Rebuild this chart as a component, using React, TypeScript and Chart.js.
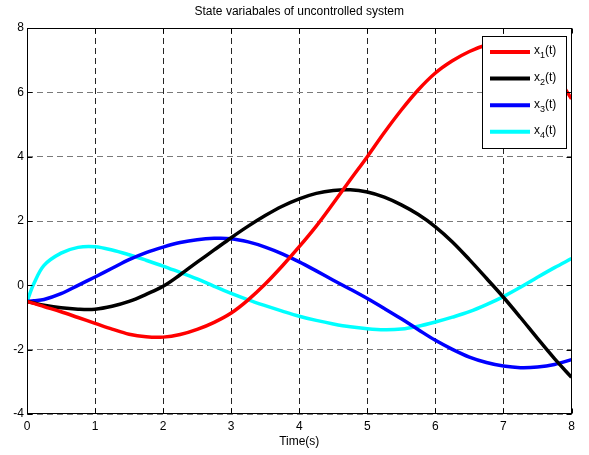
import React, { useEffect, useRef } from "react";
import { Chart, registerables } from "chart.js";

Chart.register(...registerables);

const titleText = "State variabales of uncontrolled system";
const xLabel = "Time(s)";

const time = [0, 0.1, 0.25, 0.5, 0.75, 1, 1.25, 1.5, 1.75, 2, 2.25, 2.5, 2.75, 3, 3.25, 3.5, 3.75, 4, 4.25, 4.5, 4.75, 5, 5.25, 5.5, 5.75, 6, 6.25, 6.5, 6.75, 7, 7.25, 7.5, 7.75, 8];

const x1 = [-0.5, -0.56, -0.66, -0.82, -1.0, -1.18, -1.36, -1.52, -1.6, -1.61, -1.53, -1.37, -1.15, -0.86, -0.45, 0.04, 0.6, 1.2, 1.84, 2.55, 3.28, 4.0, 4.75, 5.45, 6.08, 6.6, 6.98, 7.27, 7.47, 7.57, 7.5, 7.2, 6.6, 5.8];
const x2 = [-0.5, -0.55, -0.62, -0.7, -0.74, -0.74, -0.65, -0.5, -0.28, -0.03, 0.33, 0.72, 1.1, 1.48, 1.84, 2.17, 2.46, 2.69, 2.86, 2.95, 2.97, 2.9, 2.74, 2.5, 2.2, 1.82, 1.35, 0.8, 0.22, -0.37, -1.0, -1.65, -2.28, -2.86];
const x3 = [-0.5, -0.48, -0.44, -0.26, 0.0, 0.26, 0.53, 0.8, 1.02, 1.19, 1.33, 1.42, 1.46, 1.45, 1.35, 1.19, 0.98, 0.73, 0.45, 0.16, -0.12, -0.41, -0.72, -1.04, -1.38, -1.71, -1.99, -2.23, -2.4, -2.51, -2.56, -2.54, -2.46, -2.31];
const x4 = [-0.5, 0.05, 0.62, 1.0, 1.18, 1.2, 1.1, 0.95, 0.78, 0.6, 0.4, 0.2, -0.03, -0.25, -0.45, -0.63, -0.8, -0.96, -1.09, -1.2, -1.29, -1.35, -1.38, -1.36, -1.27, -1.14, -0.99, -0.82, -0.6, -0.35, -0.06, 0.25, 0.55, 0.83];

const seriesValues = [x1, x2, x3, x4];
const seriesSubs = ["1", "2", "3", "4"];
const seriesColors = ["#ff0000", "#000000", "#0000ff", "#00ffff"];

const xTickValues = [0, 1, 2, 3, 4, 5, 6, 7, 8];
const yTickValues = [-4, -2, 0, 2, 4, 6, 8];

const FONT = "Arial, 'Liberation Sans', Helvetica, sans-serif";

const decorPlugin = {
  id: "decor",
  afterDraw(chart: any) {
    const { ctx, chartArea, scales } = chart;
    const { left, right, top, bottom } = chartArea;
    const xs = scales.x;
    const ys = scales.y;
    ctx.save();
    ctx.strokeStyle = "#000";
    ctx.lineWidth = 1;
    ctx.setLineDash([]);
    const L = Math.round(left) + 0.5;
    const R = Math.round(right) - 0.5;
    const T = Math.round(top) + 0.5;
    const B = Math.round(bottom) - 0.5;
    ctx.strokeRect(L, T, R - L, B - T);
    ctx.beginPath();
    xTickValues.forEach((v) => {
      const px = Math.round(xs.getPixelForValue(v)) + 0.5;
      ctx.moveTo(px, B);
      ctx.lineTo(px, B - 5);
      ctx.moveTo(px, T);
      ctx.lineTo(px, T + 5);
    });
    yTickValues.forEach((v) => {
      const py = Math.round(ys.getPixelForValue(v)) + 0.5;
      ctx.moveTo(L, py);
      ctx.lineTo(L + 5, py);
      ctx.moveTo(R, py);
      ctx.lineTo(R - 5, py);
    });
    ctx.stroke();

    ctx.fillStyle = "#000";
    ctx.font = `12px ${FONT}`;
    ctx.textAlign = "center";
    ctx.textBaseline = "middle";
    ctx.fillText(titleText, (left + right) / 2, 12);
    ctx.fillText(xLabel, (left + right) / 2, 442);

    const lx = 482.5, ly = 36.5, lw = 84, lh = 112;
    ctx.fillStyle = "#fff";
    ctx.fillRect(lx, ly, lw, lh);
    ctx.strokeStyle = "#000";
    ctx.lineWidth = 1;
    ctx.strokeRect(lx, ly, lw, lh);
    seriesSubs.forEach((sub, i) => {
      const ry = 52 + i * 26.6;
      ctx.strokeStyle = seriesColors[i];
      ctx.lineWidth = 4;
      ctx.beginPath();
      ctx.moveTo(490, ry);
      ctx.lineTo(530, ry);
      ctx.stroke();
      ctx.fillStyle = "#000";
      ctx.textAlign = "left";
      ctx.textBaseline = "middle";
      ctx.font = `12px ${FONT}`;
      ctx.fillText("x", 534, ry - 1);
      const wx = ctx.measureText("x").width;
      ctx.font = `9px ${FONT}`;
      ctx.fillText(sub, 534 + wx, ry + 4);
      const ws = ctx.measureText(sub).width;
      ctx.font = `12px ${FONT}`;
      ctx.fillText("(t)", 534 + wx + ws, ry - 1);
    });
    ctx.restore();
  },
};

export default function App() {
  const ref = useRef<HTMLCanvasElement | null>(null);
  useEffect(() => {
    document.body.style.margin = "0";
    const canvas = ref.current;
    if (!canvas) return;
    const chart = new Chart(canvas, {
      type: "line",
      data: {
        datasets: seriesValues.map((vals, i) => ({
          label: "x" + seriesSubs[i] + "(t)",
          data: time.map((t, j) => ({ x: t, y: vals[j] })),
          borderColor: seriesColors[i],
          backgroundColor: seriesColors[i],
          borderWidth: 3.5,
          pointRadius: 0,
          tension: 0.35,
          fill: false,
        })),
      },
      options: {
        animation: false,
        responsive: false,
        maintainAspectRatio: false,
        layout: { padding: { top: 28, right: 17.5, left: 0, bottom: 0 } },
        plugins: {
          legend: { display: false },
          title: { display: false },
          tooltip: { enabled: false },
        },
        scales: {
          x: {
            type: "linear",
            min: 0,
            max: 8,
            afterBuildTicks: (s: any) => {
              s.ticks = xTickValues.map((v) => ({ value: v }));
            },
            afterFit: (s: any) => {
              s.height = 41;
            },
            ticks: {
              padding: 5,
              color: "#000",
              font: { family: FONT, size: 12 },
              maxRotation: 0,
            },
            grid: {
              color: "rgba(0,0,0,0.85)",
              lineWidth: 1,
              drawTicks: false,
            },
            border: { display: false, dash: [6, 4] },
          },
          y: {
            type: "linear",
            min: -4,
            max: 8,
            afterBuildTicks: (s: any) => {
              s.ticks = yTickValues.map((v) => ({ value: v }));
            },
            afterFit: (s: any) => {
              s.width = 27;
            },
            ticks: {
              padding: 3,
              color: "#000",
              font: { family: FONT, size: 12 },
            },
            grid: {
              color: "#7a7a7a",
              lineWidth: 1,
              drawTicks: false,
            },
            border: { display: false, dash: [6, 4] },
          },
        },
      },
      plugins: [decorPlugin],
    });
    return () => chart.destroy();
  }, []);
  return (
    <div style={{ width: 589, height: 455, background: "#fff" }}>
      <canvas ref={ref} width={589} height={455} style={{ display: "block" }} />
    </div>
  );
}
